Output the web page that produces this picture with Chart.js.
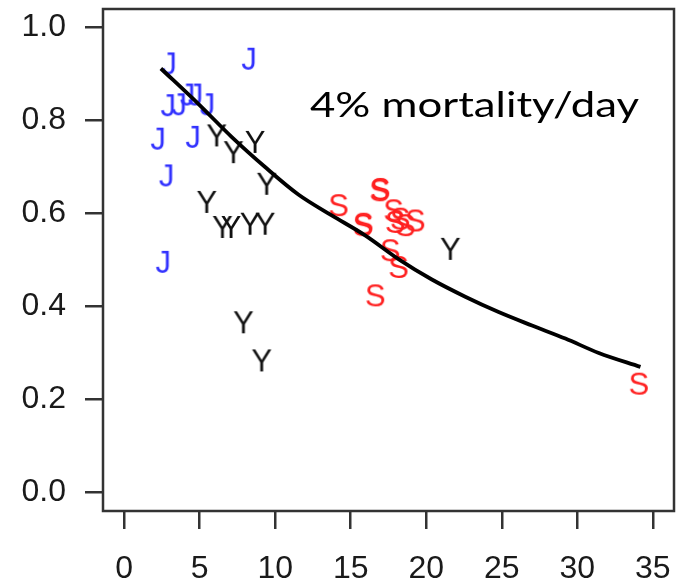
<!DOCTYPE html>
<html lang="en">
<head>
<meta charset="UTF-8">
<title>4% mortality/day</title>
<script src="https://cdn.jsdelivr.net/npm/chart.js@4.4.1/dist/chart.umd.min.js"></script>
<style>
  html, body { margin: 0; padding: 0; background: #ffffff; }
  #wrap { width: 683px; height: 586px; }
</style>
</head>
<body>
<div id="wrap"><canvas id="chart" width="683" height="586"></canvas></div>
<script>
// J group (blue)
const jDays = [2.98, 8.27, 2.92, 3.65, 4.20, 4.73, 5.52, 2.25, 4.57, 2.81, 2.59];
const jSurv = [0.923, 0.933, 0.833, 0.835, 0.856, 0.856, 0.835, 0.761, 0.765, 0.682, 0.496];
// Y group (black)
const yDays = [6.12, 7.23, 8.66, 9.43, 5.46, 6.50, 7.07, 8.33, 9.33, 7.89, 9.10, 21.59];
const ySurv = [0.768, 0.732, 0.754, 0.664, 0.625, 0.571, 0.571, 0.578, 0.578, 0.366, 0.284, 0.524];
// S group (red)
const sDays = [14.19, 16.95, 16.90, 15.84, 15.80, 17.83, 18.27, 18.61, 19.27, 17.94, 17.61, 18.16, 16.62, 34.07];
const sSurv = [0.618, 0.653, 0.650, 0.578, 0.575, 0.607, 0.589, 0.575, 0.585, 0.582, 0.521, 0.485, 0.424, 0.234];
// fitted survival curve
const curveDays = [2.43, 4.91, 7.11, 9.33, 11.53, 13.74, 15.95, 18.16, 20.37, 22.58, 24.79, 27.0, 29.21, 31.42, 34.18];
const curveSurv = [0.912, 0.836, 0.765, 0.700, 0.641, 0.596, 0.553, 0.502, 0.458, 0.421, 0.388, 0.359, 0.331, 0.300, 0.270];

const xTicks = [0, 5, 10, 15, 20, 25, 30, 35];
const xTickLabels = ['0', '5', '10', '15', '20', '25', '30', '35'];
const yTicks = [0, 0.2, 0.4, 0.6, 0.8, 1.0];
const yTickLabels = ['0.0', '0.2', '0.4', '0.6', '0.8', '1.0'];

const noteText = '4% mortality/day';
const notePos = { x: 12.3, y: 0.808, width: 329 };

const AXIS = '#333333';
const TEXT = '#1a1a1a';
const LABEL_FONT = '"Liberation Sans", Arial, sans-serif';

function pts(xs, ys) {
  return xs.map((x, i) => ({ x: x, y: ys[i] }));
}

// letter used as a point marker, centred on the cap height
function letterMarker(ch, color) {
  const size = 31;
  const c = document.createElement('canvas');
  c.width = 40;
  c.height = 40;
  const g = c.getContext('2d');
  g.font = size + 'px ' + LABEL_FONT;
  g.fillStyle = color;
  g.textAlign = 'center';
  g.textBaseline = 'alphabetic';
  g.fillText(ch, 20, 20 + 0.716 * size / 2);
  return c;
}

const framePlugin = {
  id: 'frame',
  afterDatasetsDraw(chart) {
    const a = chart.chartArea;
    const ctx = chart.ctx;
    ctx.save();
    ctx.strokeStyle = AXIS;
    ctx.lineWidth = 2.5;
    ctx.strokeRect(a.left, a.top, a.right - a.left, a.bottom - a.top);
    ctx.restore();
  }
};

const notePlugin = {
  id: 'note',
  afterDraw(chart) {
    const ctx = chart.ctx;
    const px = chart.scales.x.getPixelForValue(notePos.x);
    const py = chart.scales.y.getPixelForValue(notePos.y);
    ctx.save();
    ctx.font = '34px Lato, "Open Sans", sans-serif';
    ctx.fillStyle = '#000000';
    ctx.textBaseline = 'alphabetic';
    const w = ctx.measureText(noteText).width;
    ctx.translate(px, py);
    ctx.scale(notePos.width / w, 1);
    ctx.fillText(noteText, 0, 0);
    ctx.restore();
  }
};

function axisOpts(min, max, ticks, labels, fontSize, pad) {
  return {
    type: 'linear',
    min: min,
    max: max,
    afterBuildTicks: s => { s.ticks = ticks.map(v => ({ value: v })); },
    ticks: {
      autoSkip: false,
      maxRotation: 0,
      padding: pad,
      color: TEXT,
      font: { family: LABEL_FONT, size: fontSize },
      callback: (v, i) => labels[i]
    },
    grid: {
      drawOnChartArea: false,
      drawTicks: true,
      tickLength: 18,
      color: AXIS,
      lineWidth: 2.5
    },
    border: { display: false }
  };
}

const xScale = axisOpts(-1.4, 36.4, xTicks, xTickLabels, 32, 21);
xScale.afterFit = s => { s.height = 75; s.paddingLeft = 0; s.paddingRight = 0; };
const yScale = axisOpts(-0.04, 1.04, yTicks, yTickLabels, 32, 19);
yScale.afterFit = s => { s.width = 103; s.paddingTop = 0; s.paddingBottom = 0; };

new Chart(document.getElementById('chart'), {
  type: 'scatter',
  data: {
    datasets: [
      {
        type: 'line',
        data: pts(curveDays, curveSurv),
        borderColor: '#000000',
        borderWidth: 3.8,
        pointRadius: 0,
        cubicInterpolationMode: 'monotone',
        fill: false
      },
      { data: pts(jDays, jSurv), pointStyle: letterMarker('J', '#3030ff') },
      { data: pts(yDays, ySurv), pointStyle: letterMarker('Y', '#111111') },
      { data: pts(sDays, sSurv), pointStyle: letterMarker('S', '#ff2020') }
    ]
  },
  options: {
    responsive: false,
    animation: false,
    layout: { padding: { left: 0, right: 9, top: 9, bottom: 0 } },
    plugins: { legend: { display: false }, tooltip: { enabled: false } },
    scales: { x: xScale, y: yScale }
  },
  plugins: [framePlugin, notePlugin]
});
</script>
</body>
</html>
